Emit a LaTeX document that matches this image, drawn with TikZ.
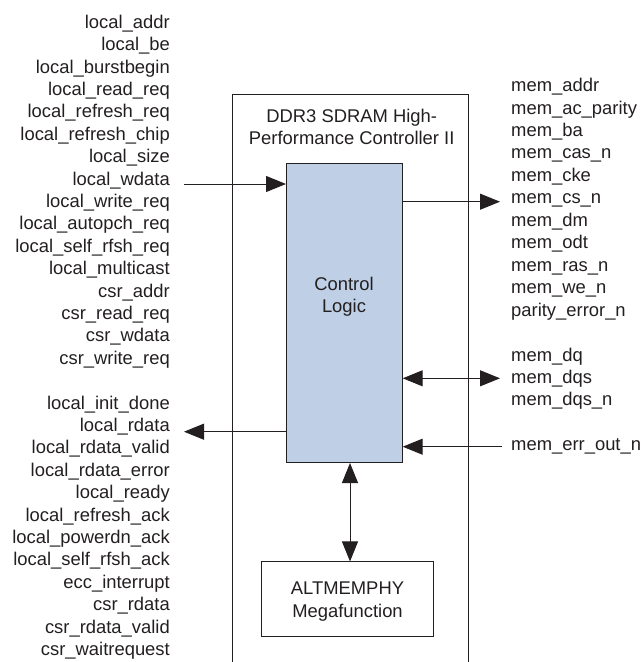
\documentclass[tikz,border=0pt]{standalone}
\usepackage{fontspec}
\setmainfont{Liberation Sans}
\usetikzlibrary{arrows.meta}
\definecolor{ink}{RGB}{35,31,32}
\definecolor{ctrlfill}{RGB}{190,207,230}
\begin{document}
\begin{tikzpicture}[x=1pt,y=-1pt,
  lbl/.style={font=\fontsize{18.4}{22.4}\selectfont, text=ink, inner sep=0pt},
  tip/.tip={Triangle[length=20pt,width=16pt]},
  sig/.style={draw=ink, line width=1pt, -tip},
  bisig/.style={draw=ink, line width=1pt, tip-tip},
  blk/.style={draw=ink, line width=1pt}]
\useasboundingbox (0,0) rectangle (643,662);

% outer controller box (open at the bottom)
\coordinate (obl) at (232,662);
\coordinate (otl) at (232,94);
\coordinate (otr) at (468.7,94);
\coordinate (obr) at (468.7,662);
\draw[blk] (obl) -- (otl) -- (otr) -- (obr);

\node[lbl, anchor=base] (title1) at (351.7,122.8) {DDR3 SDRAM High-};
\node[lbl, anchor=base] (title2) at (351.7,144) {Performance Controller II};

% control logic
\node[blk, fill=ctrlfill, minimum width=115.7pt, minimum height=299.3pt,
      inner sep=0pt, anchor=north west] (ctrl) at (286,162.7) {};
\node[lbl, align=center] (ctrltxt) at (344,297) {Control\\Logic};

% ALTMEMPHY
\node[blk, lbl, minimum width=172pt, minimum height=74.7pt, align=center] (alt)
  at (347,599.3) {};
\node[lbl, align=center] (alttxt) at (347.5,601.5) {ALTMEMPHY\\Megafunction};

% left signal names
\foreach \t [count=\i from 0] in {local\_addr,local\_be,local\_burstbegin,local\_read\_req,
  local\_refresh\_req,local\_refresh\_chip,local\_size,local\_wdata,local\_write\_req,
  local\_autopch\_req,local\_self\_rfsh\_req,local\_multicast,csr\_addr,csr\_read\_req,
  csr\_wdata,csr\_write\_req}
  \node[lbl, anchor=base east] (lin\i) at (170,28.3+22.4*\i) {\t};
\foreach \t [count=\i from 17] in {local\_init\_done,local\_rdata,local\_rdata\_valid,
  local\_rdata\_error,local\_ready,local\_refresh\_ack,local\_powerdn\_ack,
  local\_self\_rfsh\_ack,ecc\_interrupt,csr\_rdata,csr\_rdata\_valid,csr\_waitrequest}
  \node[lbl, anchor=base east] (lout\i) at (170,28.3+22.4*\i) {\t};

% right signal names
\foreach \t [count=\j from 0] in {mem\_addr,mem\_ac\_parity,mem\_ba,mem\_cas\_n,mem\_cke,
  mem\_cs\_n,mem\_dm,mem\_odt,mem\_ras\_n,mem\_we\_n,parity\_error\_n}
  \node[lbl, anchor=base west] (rout\j) at (511,91.6+22.45*\j) {\t};
\foreach \t [count=\j from 12] in {mem\_dq,mem\_dqs,mem\_dqs\_n}
  \node[lbl, anchor=base west] (rbi\j) at (511,91.6+22.45*\j) {\t};
\node[lbl, anchor=base west] (rin16) at (511,91.6+22.45*16) {mem\_err\_out\_n};

% connectors
\coordinate (win) at (184,184);
\draw[sig] (win) -- (ctrl.west |- win);
\coordinate (rd) at (184,431.7);
\draw[sig] (ctrl.west |- rd) -- (rd);
\coordinate (wout) at (500,201.7);
\draw[sig] (ctrl.east |- wout) -- (wout);
\coordinate (dq) at (500,378.3);
\draw[bisig] (ctrl.east |- dq) -- (dq);
\coordinate (err) at (502,446.7);
\draw[sig] (err) -- (ctrl.east |- err);
\coordinate (va) at (350,0);
\draw[bisig] (ctrl.south -| va) -- (alt.north -| va);
\end{tikzpicture}
\end{document}
